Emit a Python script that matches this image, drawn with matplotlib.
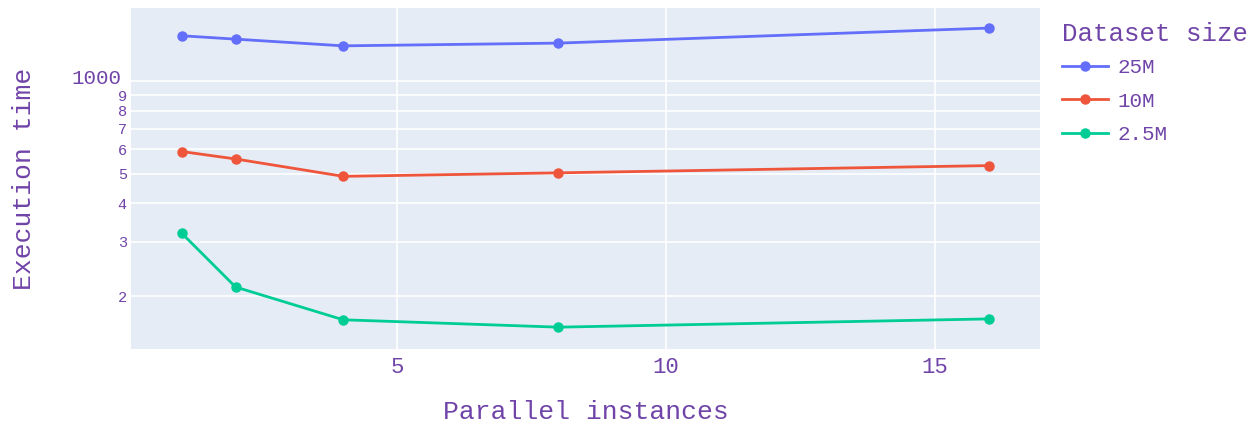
import matplotlib.pyplot as plt
import matplotlib.transforms as mtransforms
from matplotlib.ticker import FixedLocator

# data (log y axis)
instances = [1, 2, 4, 8, 16]
series_names = ["25M", "10M", "2.5M"]
time_25m = [1403, 1368, 1301, 1328, 1486]
time_10m = [590, 558, 490, 503, 531]
time_2_5m = [320, 214, 167.5, 158.5, 168.6]
colors = ["#636EFA", "#EF553B", "#00CC96"]

minor_vals = [200, 300, 400, 500, 600, 700, 800, 900]
minor_labels = ["2", "3", "4", "5", "6", "7", "8", "9"]

txt = "#7044a8"
font = ["Liberation Mono", "DejaVu Sans Mono"]
plt.rcParams["font.family"] = font

fig = plt.figure(figsize=(12.57, 4.26), dpi=100)
ax = fig.add_axes([131 / 1257, 1 - 349 / 426, (1040 - 131) / 1257, (349 - 8) / 426])
ax.set_facecolor("#E5ECF6")

for name, vals, c in zip(series_names, [time_25m, time_10m, time_2_5m], colors):
    ax.plot(instances, vals, color=c, lw=2, marker="o", ms=6.5, label=name, zorder=3)

ax.set_yscale("log")
ax.set_ylim(134.6, 1727)
ax.set_xlim(0.056, 16.95)

ax.set_xticks([5, 10, 15])
ax.yaxis.set_major_locator(FixedLocator([1000]))
ax.yaxis.set_minor_locator(FixedLocator(minor_vals))
ax.set_yticklabels(["1000"])
ax.set_yticks(minor_vals, minor_labels, minor=True)

ax.tick_params(axis="x", length=0, pad=6, labelsize=16, labelcolor=txt)
ax.tick_params(axis="y", which="major", length=0, pad=7, labelsize=15, labelcolor=txt)
ax.tick_params(axis="y", which="minor", length=0, pad=3, labelsize=11, labelcolor=txt)
# nudge the "1000" label up a little, like the reference
up = mtransforms.ScaledTranslation(0, 3 / 72, fig.dpi_scale_trans)
for lbl in ax.get_yticklabels():
    lbl.set_transform(lbl.get_transform() + up)

ax.grid(True, which="major", color="white", lw=1.2)
ax.grid(True, which="minor", axis="y", color="white", lw=1.2)
ax.set_axisbelow(True)
for s in ax.spines.values():
    s.set_visible(False)

ax.set_xlabel("Parallel instances", fontsize=19, color=txt, va="center")
ax.xaxis.set_label_coords(0.5, -0.185)
ax.set_ylabel("Execution time", fontsize=19, color=txt, va="center")
ax.yaxis.set_label_coords(-0.118, 0.5)

leg = ax.legend(title="Dataset size", loc="upper left", bbox_to_anchor=(1.0034, 1.015),
                frameon=False, fontsize=15, title_fontsize=18.5, handlelength=2.2,
                labelspacing=0.7, borderaxespad=0.5, handletextpad=0.48)
leg.get_title().set_color(txt)
leg._legend_box.align = "left"
leg._legend_box.sep = 9
for t in leg.get_texts():
    t.set_color(txt)

fig.savefig("out.png", dpi=100)
